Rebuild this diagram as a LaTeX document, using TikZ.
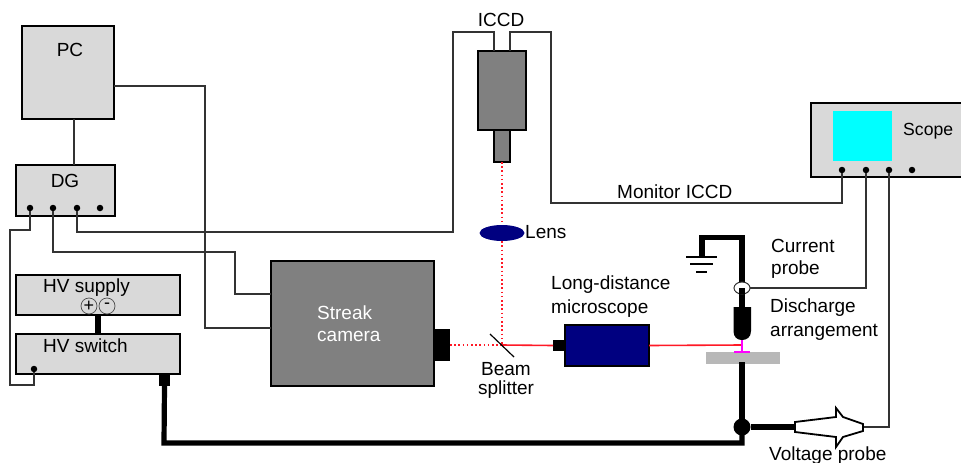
\documentclass[tikz,border=0pt]{standalone}
\usepackage{fontspec}
\setmainfont{Liberation Sans}
\usetikzlibrary{calc,shapes.geometric}
\definecolor{boxgray}{gray}{0.85}
\definecolor{camgray}{gray}{0.5}
\definecolor{navyblue}{rgb}{0,0,0.5}
\definecolor{wirecol}{gray}{0.2}
\definecolor{beamred}{rgb}{1,0.1,0.15}
\definecolor{screencyan}{rgb}{0,1,1}
\definecolor{pinktip}{rgb}{1,0,1}
\tikzset{
  box/.style={draw=black,line width=1.6pt,fill=boxgray,inner sep=0pt,outer sep=0pt,rectangle},
  cam/.style={box,fill=camgray},
  navy/.style={box,fill=navyblue},
  solidblack/.style={fill=black,draw=none,inner sep=0pt,outer sep=0pt,rectangle},
  wire/.style={draw=wirecol,line width=1.2pt},
  thickwire/.style={draw=black,line width=5.2pt},
  beam/.style={draw=beamred,line width=1.6pt},
  dottedbeam/.style={draw=beamred,line width=1.6pt,dash pattern=on 1.6pt off 2.6pt},
  lbl/.style={inner sep=0pt,anchor=west,font=\fontsize{19}{19}\selectfont},
  clbl/.style={inner sep=0pt,anchor=center,font=\fontsize{19}{19}\selectfont},
  port/.style={circle,fill=black,draw=none,minimum size=6.5pt,inner sep=0pt},
  sign/.style={circle,draw=black!70,line width=0.7pt,fill=boxgray,minimum size=16pt,inner sep=0pt,font=\fontsize{18}{18}\selectfont},
}
\begin{document}
\begin{tikzpicture}[x=1pt,y=-1pt]
\clip (0,0) rectangle (961,463);
\fill[white] (0,0) rectangle (961,463);
% boxes
\node[box,minimum width=92pt,minimum height=93pt] (pc) at (68,72.5) {};
\node[clbl] (pclabel) at (70,50) {PC};
\node[box,minimum width=99pt,minimum height=51pt] (dg) at (65.5,190.5) {};
\node[clbl] (dglabel) at (65,181) {DG};
\node[box,minimum width=164pt,minimum height=40pt] (hvsupply) at (98,295) {};
\node[lbl] (hvsupplylabel) at (43,288) {HV supply};
\node[box,minimum width=164pt,minimum height=40pt] (hvswitch) at (98,354) {};
\node[lbl] (hvswitchlabel) at (43,346) {HV switch};
\node[sign] (plus) at (89,306) {+};
\node[sign] (minus) at (107,306) {-};
\node[cam,minimum width=163pt,minimum height=125pt] (streak) at (352.5,323.5) {};
\node[lbl,text=white] (streaklabel1) at (317,313) {Streak};
\node[lbl,text=white] (streaklabel2) at (317,336) {camera};
\node[solidblack,minimum width=16pt,minimum height=32pt] (streaklens) at (442,345) {};
\node[cam,minimum width=48pt,minimum height=79pt] (iccd) at (502,90.5) {};
\node[cam,minimum width=16pt,minimum height=32pt] (iccdtube) at (502,146) {};
\node[clbl] (iccdlabel) at (501,20) {ICCD};
\node[ellipse,fill=navyblue,draw=none,minimum width=45pt,minimum height=16pt,inner sep=0pt] (lens) at (502,233) {};
\node[lbl] (lenslabel) at (525,232) {Lens};
\node[navy,minimum width=84pt,minimum height=41pt] (micro) at (607,345.5) {};
\node[solidblack,minimum width=12pt,minimum height=11pt] (microeye) at (559,345.5) {};
\node[box,minimum width=170pt,minimum height=74pt] (scope) at (896,140) {};
\node[fill=screencyan,draw=none,minimum width=59pt,minimum height=50pt,inner sep=0pt] (screen) at (862.5,136) {};
\node[lbl,font=\fontsize{17.6}{18}\selectfont] (scopelabel) at (903,131) {Scope};
\node[fill=black!28,draw=none,minimum width=74pt,minimum height=12pt,inner sep=0pt] (plate) at (743,358) {};
\node[solidblack,minimum width=11pt,minimum height=12pt] (switchport) at (164.5,380) {};
% ports
\node[port] (dga) at (30,208) {};
\node[port] (dgb) at (53,208) {};
\node[port] (dgc) at (77,208) {};
\node[port] (dgd) at (100,208) {};
\node[port] (sw) at (34,369) {};
\node[port] (sca) at (842,170) {};
\node[port] (scb) at (866,170) {};
\node[port] (scc) at (889,170) {};
\node[port] (scd) at (912,170) {};
\coordinate (iccdl) at (494,51);
\coordinate (iccdr) at (510,51);
\coordinate (split) at (502,345);
\coordinate (tip) at (742,340);
\coordinate (hvtop) at (98,315);
\coordinate (hvbot) at (98,334);
% wires
\draw[wire] (74,119) -- (74,165);
\draw[wire] (pc.east |- 0,86) -- (205,86) -- (205,328) -- (streak.west |- 0,328);
\draw[wire] (dga) -- (30,230) -- (10,230) -- (10,385) -- (34,385) -- (sw);
\draw[wire] (dgb) -- (53,252) -- (235,252) -- (235,294) -- (streak.west |- 0,294);
\draw[wire] (dgc) -- (77,232) -- (453,232) -- (453,32) -- (494,32) -- (iccdl);
\draw[wire] (iccdr) -- (510,32) -- (551,32) -- (551,203) -- (842,203) -- (sca);
\draw[wire] (scb) -- (866,288) -- (750,288);
\draw[wire] (scc) -- (889,427) -- (863,427);
\draw[thickwire,line cap=butt] (hvtop) -- (hvbot);
% beams
\draw[dottedbeam] (iccdtube.south) -- (lens.north);
\draw[dottedbeam] (lens.south) -- (split);
\draw[dottedbeam] (streaklens.east) -- (split);
\draw[beam] (split) -- (microeye.west);
\draw[beam] (micro.east) -- (742,345);
\draw[black,line width=1.2pt] (490,334) -- (514,357);
% HV line
\draw[thickwire,line join=miter] (switchport.south) -- (164,443) -- (742,443) -- (742,427);
\draw[thickwire] (742,427) -- (742,362);
\node[circle,fill=black,minimum size=17pt,inner sep=0pt] (junction) at (742,427) {};
\draw[thickwire] (junction) -- (796,427);
% voltage probe
\draw[black,line width=1.8pt,fill=white,line join=miter] (795,422) -- (836,417) -- (836,408) -- (843,417) -- (863,424) -- (863,431) -- (843,437) -- (836,447) -- (836,437) -- (795,432) -- cycle;
% ground
\draw[thickwire,line join=miter] (742,288) -- (742,237.5) -- (702,237.5) -- (702,257);
\draw[black,line width=1.2pt] (686,257) -- (717,257) (690,264) -- (713,264) (696,272) -- (707,272);
% discharge
\draw[thickwire] (742,288) -- (742,308);
\fill[black] (733.5,307) -- (751,307) -- (751,331) .. controls (751,337) and (747,340) .. (742,340) .. controls (737,340) and (733.5,337) .. (733.5,331) -- cycle;
\draw[draw=pinktip,line width=1.6pt] (tip) -- (742,352);
\draw[draw=pinktip,line width=1.8pt] (734,352) -- (750,352);
\node[ellipse,draw=wirecol,line width=1pt,fill=white,minimum width=16pt,minimum height=12pt,inner sep=0pt] (cprobe) at (742,288) {};
\draw[thickwire,line cap=butt] (742,288) -- (742,294);
% labels
\node[lbl] (mon) at (617,192) {Monitor ICCD};
\node[lbl] (ld1) at (551,285) {Long-distance};
\node[lbl] (ld2) at (551,309) {microscope};
\node[clbl] (bs1) at (506,369) {Beam};
\node[clbl] (bs2) at (506,390) {splitter};
\node[lbl] (cp1) at (771,246) {Current};
\node[lbl] (cp2) at (771,270) {probe};
\node[lbl] (da1) at (770,308) {Discharge};
\node[lbl] (da2) at (770,332) {arrangement};
\node[lbl] (vp) at (769,456) {Voltage probe};
\end{tikzpicture}
\end{document}
